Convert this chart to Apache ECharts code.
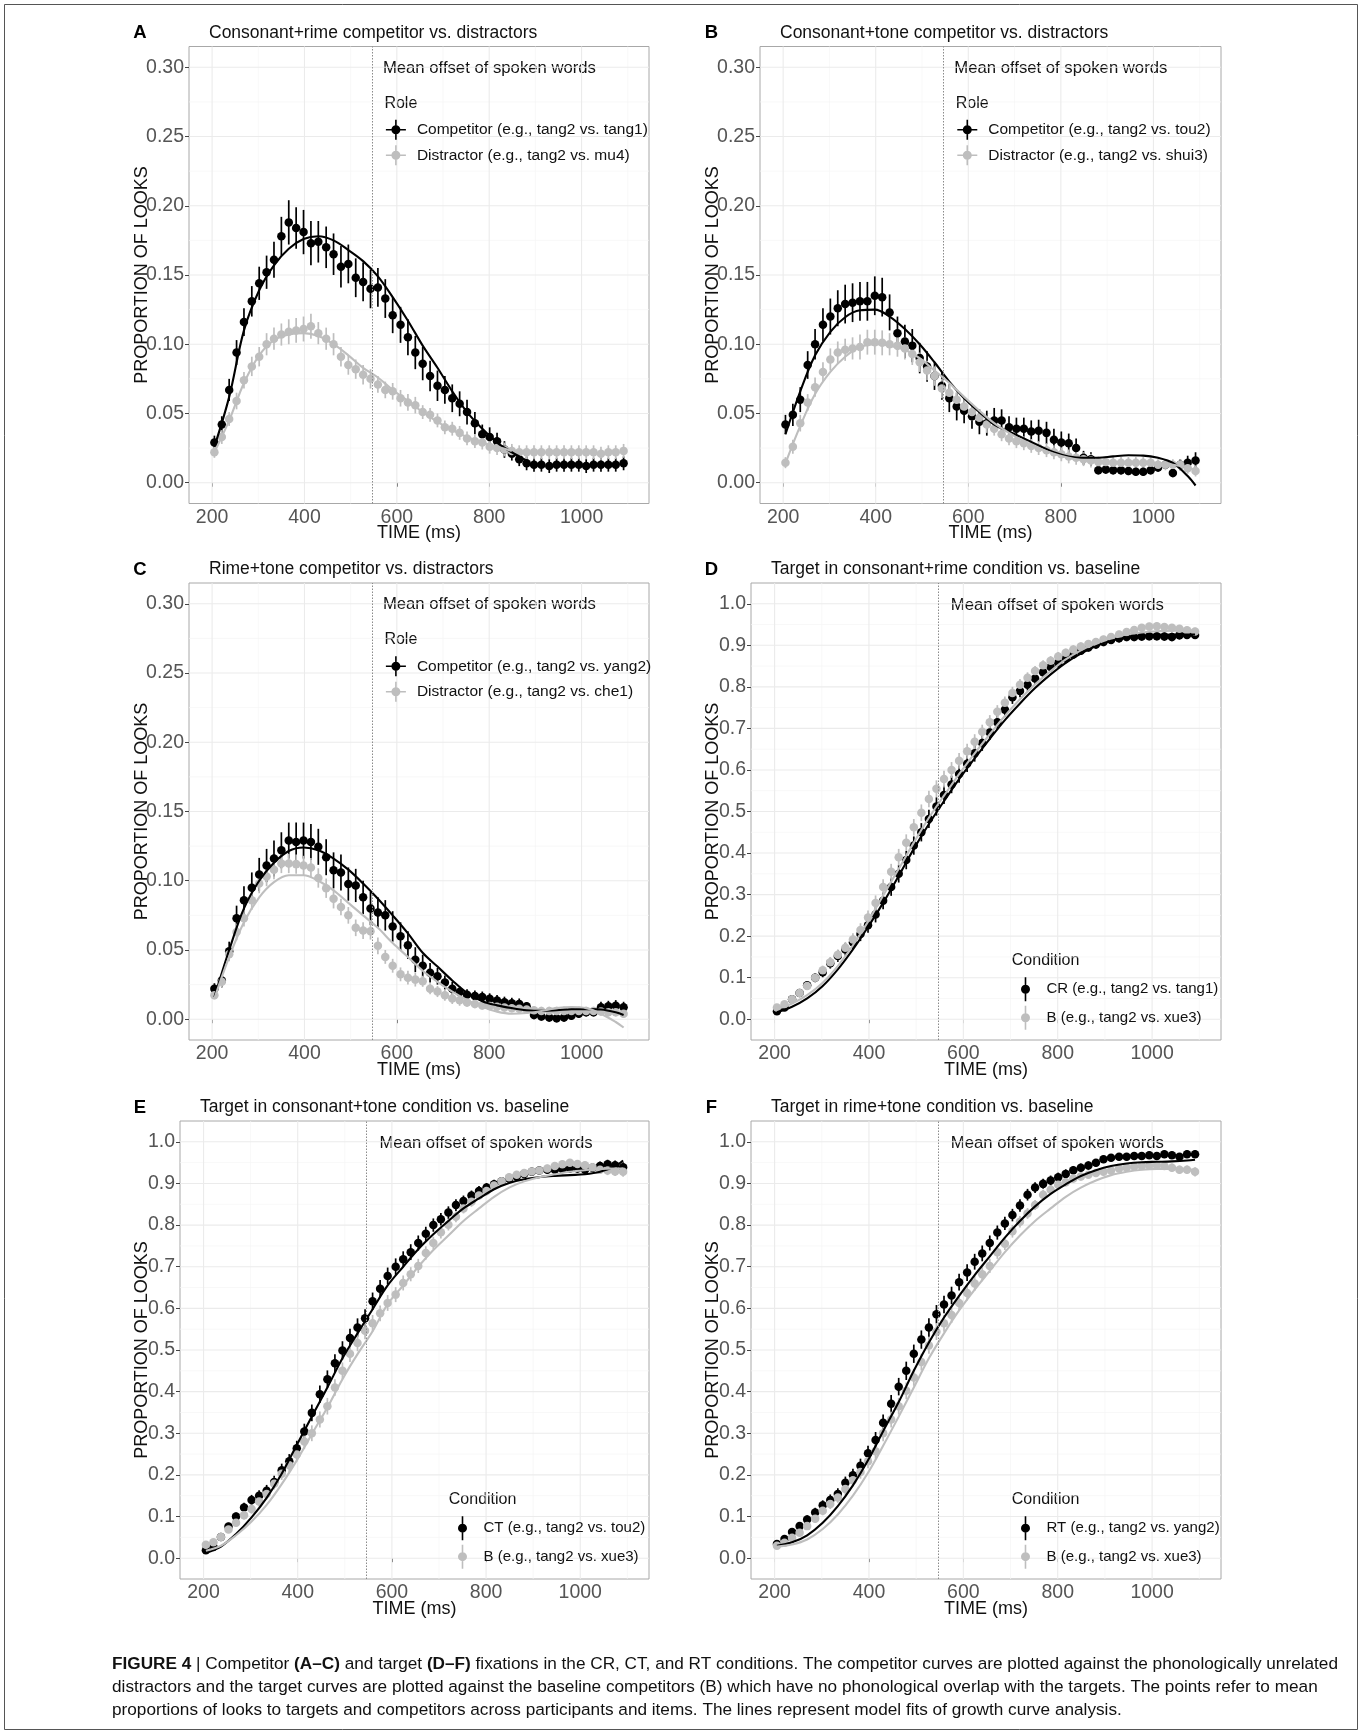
<!DOCTYPE html>
<html><head><meta charset="utf-8">
<script src="https://cdn.jsdelivr.net/npm/echarts@6/dist/echarts.min.js"></script>
<style>html,body{margin:0;padding:0;background:#fff}#c{width:1362px;height:1735px}</style>
</head><body><div id="c"></div>
<script>
// ---------------- DATA ----------------
const TIME = [205,221,237,253,269,286,302,318,334,350,366,382,398,414,430,447,463,479,495,511,527,543,559,575,591,608,624,640,656,672,688,704,720,736,752,769,785,801,817,833,849,865,881,897,913,930,946,962,978,994,1010,1026,1042,1058,1074,1091];
const FIT_TIME = [205,237,269,302,334,366,398,430,463,495,527,559,591,624,656,688,720,752,785,817,849,881,913,946,978,1010,1042,1074,1091];
const WORD_OFFSET_MS = 546;
const X_TICKS = [200,400,600,800,1000];
const X_MINOR = [300,500,700,900,1100];
const Y_TICKS_COMP = [0,0.05,0.10,0.15,0.20,0.25,0.30];
const Y_MINOR_COMP = [0.025,0.075,0.125,0.175,0.225,0.275];
const Y_TICKS_TGT = [0,0.1,0.2,0.3,0.4,0.5,0.6,0.7,0.8,0.9,1.0];
const Y_MINOR_TGT = [0.05,0.15,0.25,0.35,0.45,0.55,0.65,0.75,0.85,0.95];

// Panel A
const A_COMP = [0.029,0.042,0.067,0.094,0.116,0.131,0.144,0.152,0.161,0.178,0.188,0.184,0.181,0.173,0.174,0.170,0.165,0.156,0.158,0.148,0.145,0.140,0.141,0.133,0.121,0.114,0.105,0.094,0.086,0.077,0.070,0.067,0.061,0.057,0.051,0.043,0.035,0.033,0.030,0.024,0.021,0.017,0.014,0.013,0.013,0.012,0.013,0.013,0.013,0.013,0.012,0.013,0.013,0.013,0.013,0.014];
const A_COMP_ERR = [0.005,0.006,0.008,0.009,0.010,0.011,0.012,0.012,0.013,0.014,0.016,0.015,0.016,0.016,0.015,0.015,0.015,0.015,0.014,0.014,0.014,0.014,0.014,0.014,0.013,0.013,0.013,0.012,0.012,0.011,0.011,0.010,0.010,0.009,0.009,0.008,0.007,0.007,0.006,0.006,0.005,0.005,0.005,0.005,0.005,0.005,0.005,0.005,0.005,0.005,0.005,0.005,0.005,0.005,0.005,0.005];
const A_DIST = [0.022,0.033,0.046,0.059,0.074,0.084,0.091,0.100,0.104,0.107,0.109,0.110,0.111,0.113,0.108,0.104,0.100,0.091,0.085,0.082,0.078,0.075,0.071,0.067,0.066,0.061,0.058,0.056,0.051,0.049,0.045,0.040,0.039,0.036,0.032,0.030,0.029,0.026,0.025,0.024,0.023,0.022,0.022,0.022,0.022,0.022,0.022,0.022,0.022,0.022,0.022,0.022,0.021,0.022,0.022,0.023];
const A_DIST_ERR = [0.004,0.005,0.005,0.006,0.006,0.007,0.007,0.008,0.008,0.008,0.009,0.009,0.009,0.009,0.008,0.008,0.008,0.007,0.007,0.007,0.007,0.007,0.006,0.006,0.006,0.006,0.006,0.006,0.005,0.005,0.005,0.005,0.005,0.005,0.005,0.005,0.005,0.005,0.005,0.005,0.005,0.005,0.005,0.005,0.005,0.005,0.005,0.005,0.005,0.005,0.005,0.005,0.005,0.005,0.005,0.005];
const A_COMP_FIT = [0.026,0.062,0.110,0.139,0.157,0.169,0.176,0.178,0.175,0.168,0.160,0.149,0.134,0.117,0.099,0.083,0.066,0.051,0.039,0.029,0.022,0.016,null,null,null,null,null,null,null];
const A_DIST_FIT = [0.022,0.045,0.072,0.092,0.103,0.107,0.108,0.106,0.100,0.092,0.083,0.076,0.067,0.059,0.051,0.044,0.038,0.033,0.029,0.026,0.023,null,null,null,null,null,null,null,null];

// Panel B
const B_COMP = [0.042,0.049,0.060,0.085,0.100,0.114,0.120,0.126,0.129,0.130,0.131,0.131,0.135,0.134,0.123,0.108,0.102,0.099,0.090,0.084,0.077,0.070,0.061,0.055,0.052,0.048,0.044,0.043,0.045,0.045,0.040,0.039,0.039,0.037,0.0375,0.036,0.031,0.029,0.0285,0.025,0.018,0.017,0.009,0.0095,0.009,0.009,0.0085,0.008,0.008,0.009,0.011,0.013,0.007,0.013,0.0145,0.016];
const B_COMP_ERR = [0.007,0.008,0.009,0.010,0.011,0.012,0.013,0.013,0.014,0.014,0.014,0.014,0.014,0.014,0.013,0.012,0.012,0.012,0.011,0.011,0.010,0.010,0.010,0.010,0.009,0.009,0.009,0.009,0.009,0.008,0.008,0.008,0.008,0.008,0.008,0.008,0.008,0.008,0.007,0.007,0.005,0.005,0.003,0.003,0.003,0.003,0.003,0.003,0.003,0.003,0.003,0.003,0.003,0.004,0.005,0.006];
const B_DIST = [0.0145,0.026,0.043,0.058,0.069,0.080,0.089,0.094,0.096,0.097,0.098,0.1015,0.1015,0.101,0.100,0.099,0.097,0.093,0.087,0.081,0.077,0.068,0.065,0.060,0.055,0.051,0.047,0.042,0.039,0.035,0.032,0.030,0.0285,0.0266,0.025,0.0235,0.022,0.0205,0.019,0.018,0.017,0.016,0.015,0.015,0.0145,0.0145,0.0145,0.0145,0.0145,0.0145,0.013,0.013,0.013,0.013,0.0105,0.0085];
const B_DIST_ERR = [0.004,0.005,0.006,0.006,0.007,0.007,0.008,0.008,0.008,0.008,0.009,0.009,0.009,0.009,0.008,0.008,0.008,0.008,0.007,0.007,0.007,0.007,0.006,0.006,0.006,0.006,0.006,0.006,0.005,0.005,0.005,0.005,0.005,0.005,0.005,0.005,0.005,0.005,0.005,0.005,0.005,0.005,0.004,0.004,0.004,0.004,0.004,0.004,0.004,0.004,0.004,0.004,0.004,0.004,0.004,0.004];
const B_COMP_FIT = [0.035,0.066,0.092,0.109,0.1195,0.1245,0.125,0.120,0.111,0.100,0.087,0.073,0.061,0.051,0.042,0.037,0.032,0.027,0.022,0.019,0.018,0.018,0.019,0.0198,0.0196,0.018,0.0143,0.0048,-0.002];
const B_DIST_FIT = [0.014,0.041,0.064,0.080,0.091,0.098,0.100,0.099,0.096,0.090,0.081,0.072,0.062,0.052,0.043,0.036,0.030,0.025,0.021,0.018,0.016,0.015,0.015,0.015,0.015,0.014,0.013,0.011,0.009];

// Panel C
const C_COMP = [0.022,0.028,0.049,0.073,0.086,0.095,0.1045,0.111,0.116,0.122,0.129,0.128,0.129,0.128,0.1245,0.117,0.1075,0.106,0.0976,0.0966,0.088,0.080,0.077,0.075,0.067,0.060,0.0535,0.043,0.0386,0.0336,0.031,0.0265,0.022,0.0196,0.0176,0.0167,0.016,0.0147,0.0135,0.0123,0.0115,0.011,0.0093,0.003,0.002,0.0012,0.0007,0.0012,0.0025,0.004,0.005,0.005,0.0086,0.0093,0.0098,0.0086];
const C_COMP_ERR = [0.004,0.005,0.007,0.009,0.010,0.011,0.012,0.012,0.013,0.013,0.013,0.014,0.013,0.013,0.013,0.013,0.013,0.013,0.012,0.012,0.012,0.012,0.011,0.011,0.011,0.010,0.010,0.009,0.008,0.007,0.006,0.005,0.005,0.004,0.004,0.004,0.004,0.004,0.004,0.004,0.004,0.004,0.003,0.003,0.003,0.003,0.003,0.003,0.003,0.003,0.003,0.003,0.004,0.004,0.004,0.004];
const C_DIST = [0.0174,0.027,0.047,0.063,0.073,0.086,0.098,0.103,0.108,0.1125,0.1125,0.112,0.111,0.1095,0.102,0.0946,0.087,0.081,0.075,0.066,0.064,0.0635,0.053,0.045,0.0386,0.0324,0.030,0.0286,0.0274,0.022,0.020,0.0174,0.015,0.0137,0.012,0.011,0.010,0.0095,0.009,0.0085,0.008,0.0075,0.007,0.0065,0.006,0.006,0.006,0.006,0.006,0.006,0.006,0.006,0.0055,0.005,0.005,0.004];
const C_DIST_ERR = [0.003,0.004,0.005,0.006,0.006,0.007,0.007,0.007,0.007,0.007,0.007,0.007,0.007,0.007,0.007,0.007,0.007,0.006,0.006,0.006,0.006,0.006,0.006,0.005,0.005,0.005,0.005,0.005,0.004,0.004,0.004,0.004,0.004,0.004,0.003,0.003,0.003,0.003,0.003,0.003,0.003,0.003,0.003,0.003,0.003,0.003,0.003,0.003,0.003,0.003,0.003,0.003,0.003,0.003,0.003,0.003];
const C_COMP_FIT = [0.016,0.050,0.080,0.100,0.113,0.1215,0.124,0.122,0.116,0.108,0.098,0.087,0.075,0.062,0.048,0.038,0.028,0.019,0.013,0.010,0.008,0.0065,0.006,0.0065,0.0072,0.0073,0.007,0.005,0.003];
const C_DIST_FIT = [0.015,0.045,0.070,0.088,0.099,0.104,0.104,0.100,0.093,0.084,0.075,0.066,0.055,0.045,0.035,0.027,0.020,0.014,0.009,0.0055,0.004,0.0045,0.006,0.008,0.0088,0.008,0.004,-0.002,-0.006];

// Panel D
const D_CR = [0.019,0.028,0.048,0.063,0.082,0.100,0.113,0.135,0.152,0.168,0.185,0.205,0.226,0.252,0.285,0.318,0.350,0.383,0.418,0.450,0.482,0.512,0.540,0.565,0.590,0.615,0.640,0.665,0.690,0.715,0.745,0.775,0.790,0.805,0.820,0.835,0.848,0.858,0.868,0.878,0.887,0.895,0.902,0.908,0.913,0.917,0.920,0.920,0.921,0.922,0.922,0.921,0.920,0.924,0.925,0.925];
const D_CR_ERR = [0.006,0.007,0.008,0.009,0.010,0.011,0.012,0.013,0.014,0.015,0.016,0.017,0.018,0.019,0.020,0.021,0.021,0.022,0.022,0.022,0.022,0.022,0.022,0.021,0.021,0.020,0.020,0.019,0.018,0.018,0.017,0.016,0.015,0.014,0.013,0.013,0.012,0.012,0.011,0.011,0.010,0.010,0.010,0.010,0.010,0.010,0.010,0.010,0.010,0.010,0.010,0.010,0.010,0.010,0.010,0.010];
const D_B = [0.028,0.036,0.048,0.063,0.080,0.100,0.118,0.137,0.155,0.172,0.192,0.215,0.245,0.280,0.318,0.355,0.390,0.425,0.462,0.497,0.530,0.555,0.578,0.600,0.622,0.645,0.668,0.692,0.715,0.740,0.762,0.785,0.805,0.822,0.838,0.852,0.863,0.873,0.882,0.890,0.897,0.903,0.908,0.914,0.920,0.926,0.932,0.937,0.942,0.945,0.946,0.944,0.942,0.940,0.936,0.933];
const D_B_ERR = [0.005,0.006,0.007,0.008,0.009,0.010,0.011,0.012,0.013,0.014,0.015,0.016,0.017,0.018,0.019,0.019,0.020,0.020,0.020,0.020,0.020,0.020,0.020,0.019,0.019,0.018,0.018,0.017,0.017,0.016,0.015,0.015,0.014,0.013,0.012,0.012,0.011,0.011,0.010,0.010,0.010,0.009,0.009,0.009,0.009,0.009,0.009,0.009,0.009,0.009,0.009,0.009,0.009,0.009,0.009,0.009];
const D_CR_FIT = [0.017,0.030,0.050,0.080,0.120,0.168,0.222,0.280,0.345,0.410,0.470,0.525,0.578,0.628,0.675,0.720,0.760,0.797,0.830,0.858,0.880,0.898,0.911,0.919,0.923,0.925,0.926,0.926,0.926];
const D_B_FIT = [0.025,0.038,0.058,0.088,0.128,0.178,0.235,0.298,0.362,0.425,0.485,0.538,0.590,0.640,0.686,0.730,0.770,0.806,0.838,0.866,0.888,0.905,0.918,0.926,0.931,0.934,0.935,0.936,0.936];

// Panel E
const E_CT = [0.019,0.027,0.051,0.076,0.100,0.122,0.140,0.150,0.162,0.183,0.211,0.233,0.264,0.304,0.349,0.394,0.430,0.468,0.499,0.529,0.554,0.576,0.617,0.647,0.678,0.700,0.718,0.735,0.757,0.779,0.800,0.814,0.830,0.848,0.858,0.871,0.882,0.890,0.898,0.905,0.912,0.917,0.923,0.928,0.931,0.933,0.933,0.935,0.936,0.936,0.933,0.938,0.942,0.946,0.944,0.939];
const E_CT_ERR = [0.006,0.007,0.008,0.009,0.010,0.011,0.012,0.013,0.014,0.015,0.016,0.017,0.018,0.019,0.020,0.021,0.021,0.022,0.022,0.022,0.022,0.022,0.021,0.021,0.020,0.020,0.019,0.019,0.018,0.017,0.016,0.015,0.015,0.014,0.013,0.012,0.012,0.011,0.011,0.010,0.010,0.010,0.010,0.010,0.010,0.010,0.010,0.010,0.010,0.010,0.010,0.010,0.011,0.011,0.011,0.012];
const E_B = [0.032,0.038,0.051,0.069,0.085,0.103,0.118,0.136,0.154,0.179,0.203,0.223,0.249,0.280,0.300,0.333,0.365,0.410,0.450,0.491,0.517,0.546,0.564,0.588,0.613,0.633,0.661,0.682,0.702,0.733,0.757,0.783,0.801,0.820,0.840,0.856,0.871,0.882,0.895,0.905,0.915,0.921,0.925,0.929,0.931,0.936,0.942,0.946,0.950,0.947,0.944,0.939,0.933,0.931,0.929,0.928];
const E_B_ERR = [0.005,0.006,0.007,0.008,0.009,0.010,0.011,0.012,0.013,0.014,0.015,0.016,0.017,0.018,0.019,0.019,0.020,0.020,0.020,0.020,0.020,0.020,0.020,0.019,0.019,0.018,0.018,0.017,0.017,0.016,0.015,0.015,0.014,0.013,0.012,0.012,0.011,0.011,0.010,0.010,0.010,0.009,0.009,0.009,0.009,0.009,0.009,0.009,0.009,0.009,0.009,0.010,0.010,0.011,0.011,0.012];
const E_CT_FIT = [0.013,0.028,0.058,0.098,0.145,0.203,0.272,0.340,0.410,0.480,0.540,0.598,0.655,0.700,0.742,0.778,0.810,0.840,0.864,0.886,0.901,0.910,0.915,0.918,0.920,0.922,0.928,0.941,0.955];
const E_B_FIT = [0.018,0.030,0.055,0.088,0.128,0.178,0.235,0.298,0.362,0.430,0.490,0.545,0.610,0.655,0.700,0.740,0.775,0.810,0.840,0.868,0.890,0.905,0.915,0.922,0.928,0.932,0.935,0.936,0.936];

// Panel F
const F_RT = [0.034,0.046,0.063,0.077,0.093,0.110,0.127,0.140,0.154,0.181,0.199,0.222,0.252,0.284,0.325,0.371,0.412,0.450,0.491,0.525,0.554,0.586,0.609,0.631,0.663,0.686,0.712,0.732,0.757,0.782,0.804,0.824,0.847,0.873,0.890,0.899,0.907,0.915,0.923,0.932,0.938,0.943,0.950,0.958,0.962,0.964,0.964,0.966,0.966,0.968,0.966,0.970,0.968,0.964,0.970,0.970];
const F_RT_ERR = [0.006,0.007,0.008,0.009,0.010,0.011,0.012,0.013,0.014,0.015,0.016,0.017,0.018,0.019,0.020,0.021,0.021,0.022,0.022,0.022,0.022,0.022,0.021,0.021,0.020,0.020,0.019,0.019,0.018,0.017,0.016,0.015,0.015,0.014,0.013,0.012,0.012,0.011,0.011,0.010,0.010,0.010,0.009,0.009,0.009,0.009,0.009,0.009,0.009,0.009,0.009,0.009,0.009,0.009,0.009,0.009];
const F_B = [0.030,0.037,0.049,0.061,0.077,0.095,0.114,0.130,0.146,0.166,0.187,0.207,0.233,0.257,0.300,0.333,0.365,0.402,0.434,0.471,0.511,0.544,0.564,0.584,0.613,0.637,0.660,0.682,0.702,0.735,0.755,0.785,0.808,0.828,0.848,0.873,0.885,0.897,0.903,0.912,0.917,0.921,0.925,0.928,0.931,0.936,0.938,0.941,0.942,0.943,0.944,0.942,0.938,0.933,0.933,0.928];
const F_B_ERR = [0.005,0.006,0.007,0.008,0.009,0.010,0.011,0.012,0.013,0.014,0.015,0.016,0.017,0.018,0.019,0.019,0.020,0.020,0.020,0.020,0.020,0.020,0.020,0.019,0.019,0.018,0.018,0.017,0.017,0.016,0.015,0.015,0.014,0.013,0.012,0.012,0.011,0.011,0.010,0.010,0.010,0.009,0.009,0.009,0.009,0.009,0.009,0.009,0.009,0.009,0.009,0.009,0.010,0.010,0.010,0.011];
const F_RT_FIT = [0.030,0.038,0.055,0.085,0.125,0.175,0.235,0.305,0.375,0.450,0.518,0.578,0.630,0.680,0.725,0.770,0.810,0.845,0.875,0.898,0.918,0.932,0.942,0.948,0.951,0.952,0.953,0.955,0.957];
const F_B_FIT = [0.028,0.033,0.045,0.070,0.105,0.150,0.205,0.270,0.340,0.410,0.480,0.540,0.595,0.645,0.690,0.735,0.775,0.810,0.840,0.868,0.890,0.907,0.920,0.928,0.933,0.935,0.935,0.934,0.933];

// ---------------- LAYOUT / STYLE ----------------
const FONT = "'Liberation Sans', Arial, Helvetica, sans-serif";
const BLACK = '#000000', GREY = '#BEBEBE';
const X_MIN = 150, X_MAX = 1146;

const PANELS = [
  {letter:'A', title:'Consonant+rime competitor vs. distractors', kind:'comp', col:0,
   grid:{left:189, top:46.5, width:460, height:457}, legendTitle:'Role',
   black:{name:'Competitor (e.g., tang2 vs. tang1)', y:A_COMP, err:A_COMP_ERR, fit:A_COMP_FIT},
   grey:{name:'Distractor (e.g., tang2 vs. mu4)', y:A_DIST, err:A_DIST_ERR, fit:A_DIST_FIT}},
  {letter:'B', title:'Consonant+tone competitor vs. distractors', kind:'comp', col:1,
   grid:{left:760, top:46.5, width:461, height:457}, legendTitle:'Role',
   black:{name:'Competitor (e.g., tang2 vs. tou2)', y:B_COMP, err:B_COMP_ERR, fit:B_COMP_FIT},
   grey:{name:'Distractor (e.g., tang2 vs. shui3)', y:B_DIST, err:B_DIST_ERR, fit:B_DIST_FIT}},
  {letter:'C', title:'Rime+tone competitor vs. distractors', kind:'comp', col:0,
   grid:{left:189, top:583, width:460, height:457}, legendTitle:'Role',
   black:{name:'Competitor (e.g., tang2 vs. yang2)', y:C_COMP, err:C_COMP_ERR, fit:C_COMP_FIT},
   grey:{name:'Distractor (e.g., tang2 vs. che1)', y:C_DIST, err:C_DIST_ERR, fit:C_DIST_FIT}},
  {letter:'D', title:'Target in consonant+rime condition vs. baseline', kind:'tgt', col:1,
   grid:{left:751, top:583, width:470, height:457}, legendTitle:'Condition', legendDx:206.5,
   black:{name:'CR (e.g., tang2 vs. tang1)', y:D_CR, err:D_CR_ERR, fit:D_CR_FIT},
   grey:{name:'B (e.g., tang2 vs. xue3)', y:D_B, err:D_B_ERR, fit:D_B_FIT}},
  {letter:'E', title:'Target in consonant+tone condition vs. baseline', kind:'tgt', col:0,
   grid:{left:180, top:1121, width:469, height:458}, legendTitle:'Condition', legendDx:197.5,
   black:{name:'CT (e.g., tang2 vs. tou2)', y:E_CT, err:E_CT_ERR, fit:E_CT_FIT},
   grey:{name:'B (e.g., tang2 vs. xue3)', y:E_B, err:E_B_ERR, fit:E_B_FIT}},
  {letter:'F', title:'Target in rime+tone condition vs. baseline', kind:'tgt', col:1,
   grid:{left:751, top:1121, width:470, height:458}, legendTitle:'Condition', legendDx:206.5,
   black:{name:'RT (e.g., tang2 vs. yang2)', y:F_RT, err:F_RT_ERR, fit:F_RT_FIT},
   grey:{name:'B (e.g., tang2 vs. xue3)', y:F_B, err:F_B_ERR, fit:F_B_FIT}}
];

// legend key icons (point + error bar [+ line]); invisible corner anchors fix the box
const ICON_ROLE = 'path://M0,0h0.01v0.01h-0.01Z M27,22h-0.01v-0.01h0.01Z M1,10.2H21V11.8H1Z M10.2,1H11.8V21H10.2Z M15.5,11A4.5,4.5,0,1,1,6.5,11A4.5,4.5,0,1,1,15.5,11Z';
const ICON_COND = 'path://M0,0h0.01v0.01h-0.01Z M27,24h-0.01v-0.01h0.01Z M10.2,0H11.8V24H10.2Z M15.5,12A4.5,4.5,0,1,1,6.5,12A4.5,4.5,0,1,1,15.5,12Z';

function gridLineItems(yTicks, yMinor){
  const d = [];
  X_MINOR.forEach(v => d.push([1, v]));
  yMinor.forEach(v => d.push([3, v]));
  X_TICKS.forEach(v => d.push([0, v]));
  yTicks.forEach(v => d.push([2, v]));
  return d;
}

const grids = [], xAxes = [], yAxes = [], series = [];
PANELS.forEach((p, i) => {
  const comp = p.kind === 'comp';
  const yTicks = comp ? Y_TICKS_COMP : Y_TICKS_TGT;
  const yMinor = comp ? Y_MINOR_COMP : Y_MINOR_TGT;
  grids.push({left:p.grid.left, top:p.grid.top, width:p.grid.width, height:p.grid.height,
    show:true, borderColor:'#A8A8A8', borderWidth:1, backgroundColor:'#ffffff',
    containLabel:false, outerBoundsMode:'none'});
  xAxes.push({gridIndex:i, type:'value', min:X_MIN, max:X_MAX,
    name:'TIME (ms)', nameLocation:'middle', nameGap:21, nameMoveOverlap:false,
    nameTextStyle:{fontSize:18, color:'#111', fontFamily:FONT},
    axisLine:{show:false},
    axisTick:{show:true, length:4, customValues:X_TICKS, lineStyle:{color:'#444', width:1}},
    axisLabel:{show:true, customValues:X_TICKS, margin:4, fontSize:19.5, color:'#555', fontFamily:FONT,
      formatter: v => String(Math.round(v))},
    splitLine:{show:false}, minorTick:{show:false}, minorSplitLine:{show:false}});
  yAxes.push({gridIndex:i, type:'value', min: comp ? -0.015 : -0.05, max: comp ? 0.315 : 1.05,
    name:'PROPORTION OF LOOKS', nameLocation:'middle', nameRotate:90, nameGap: comp ? 38 : 29, nameMoveOverlap:false,
    nameTextStyle:{fontSize:18, color:'#111', fontFamily:FONT},
    axisLine:{show:false},
    axisTick:{show:true, length:4, customValues:yTicks, lineStyle:{color:'#444', width:1}},
    axisLabel:{show:true, customValues:yTicks, margin:5, fontSize:19.5, color:'#555', fontFamily:FONT,
      formatter: v => comp ? v.toFixed(2) : v.toFixed(1)},
    splitLine:{show:false}, minorTick:{show:false}, minorSplitLine:{show:false}});

  // background grid lines + dotted "mean offset" line
  series.push({type:'custom', xAxisIndex:i, yAxisIndex:i, silent:true, z:1, clip:false,
    data: gridLineItems(yTicks, yMinor),
    renderItem:(params, api) => {
      const cs = params.coordSys; const kind = api.value(0), v = api.value(1);
      const major = (kind === 0 || kind === 2);
      let shape;
      if (kind < 2) { const x = api.coord([v, 0.1])[0]; shape = {x1:x, y1:cs.y, x2:x, y2:cs.y + cs.height}; }
      else { const y = api.coord([500, v])[1]; shape = {x1:cs.x, y1:y, x2:cs.x + cs.width, y2:y}; }
      return {type:'line', shape, style:{stroke: major ? '#EBEBEB' : '#F5F5F5', lineWidth: major ? 1.1 : 0.7}};
    },
    markLine:{silent:true, symbol:['none','none'], label:{show:false}, animation:false,
      lineStyle:{color:'#8A8A8A', type:[1.5,1.5], width:1}, data:[{xAxis: WORD_OFFSET_MS}]}
  });

  const addGroup = (s, color) => {
    series.push({type:'scatter', name:s.name, xAxisIndex:i, yAxisIndex:i, z:3, symbol:'circle', symbolSize:8.5,
      itemStyle:{color, opacity:1}, emphasis:{disabled:true},
      data: TIME.map((t, k) => [t, s.y[k]])});
    series.push({type:'custom', name:s.name, xAxisIndex:i, yAxisIndex:i, z:3, itemStyle:{color},
      data: TIME.map((t, k) => [t, s.y[k] - s.err[k], s.y[k] + s.err[k]]),
      encode:{x:0, y:[1,2]},
      renderItem:(params, api) => {
        const a = api.coord([api.value(0), api.value(1)]);
        const b = api.coord([api.value(0), api.value(2)]);
        return {type:'line', shape:{x1:a[0], y1:a[1], x2:b[0], y2:b[1]}, style:{stroke:color, lineWidth:1.7}};
      }});
  };
  addGroup(p.black, BLACK);
  addGroup(p.grey, GREY);
  [[p.black, BLACK], [p.grey, GREY]].forEach(([s, color]) => {
    series.push({type:'line', name:s.name, xAxisIndex:i, yAxisIndex:i, z:4, smooth:0.35,
      symbol:'none', showSymbol:false, connectNulls:false, clip:true,
      lineStyle:{color, width:2.1}, itemStyle:{color}, emphasis:{disabled:true},
      data: FIT_TIME.map((t, k) => [t, s.fit[k]])});
  });
});

const chart = echarts.init(document.getElementById('c'), null, {renderer:'canvas'});
chart.setOption({animation:false, backgroundColor:'#ffffff', grid:grids, xAxis:xAxes, yAxis:yAxes, series:series});

// ---- annotations, legends, titles (positioned from the library's own scales) ----
const legends = [], graphics = [];
PANELS.forEach((p, i) => {
  const comp = p.kind === 'comp';
  const [lineX, yTop] = chart.convertToPixel({gridIndex:i}, [WORD_OFFSET_MS, comp ? 0.30 : 1.0]);
  const y0 = chart.convertToPixel({gridIndex:i}, [WORD_OFFSET_MS, 0])[1];
  const colCenter = p.col === 0 ? 140 : 711.5;
  graphics.push({type:'text', x:colCenter, y:p.grid.top - 13.5, silent:true,
    style:{text:p.letter, fill:'#000', font:'bold 18.5px ' + FONT, textAlign:'center', textVerticalAlign:'middle'}});
  graphics.push({type:'text', x:p.grid.left + 20, y:p.grid.top - 13.5, silent:true,
    style:{text:p.title, fill:'#111', font:'17.5px ' + FONT, textAlign:'left', textVerticalAlign:'middle'}});
  graphics.push({type:'text', x:lineX + (comp ? 11 : 13), y: comp ? yTop + 1 : yTop + 2, silent:true,
    style:{text:'Mean offset of spoken words', fill:'#111', font:'16.7px ' + FONT, textAlign:'left', textVerticalAlign:'middle'}});
  if (comp) {
    graphics.push({type:'text', x:lineX + 12.5, y:yTop + 36, silent:true,
      style:{text:p.legendTitle, fill:'#111', font:'16px ' + FONT, textAlign:'left', textVerticalAlign:'middle'}});
    legends.push({show:true, orient:'vertical', left:lineX + 13, top:yTop + 51.5, padding:0,
      itemWidth:27, itemHeight:22, itemGap:3.5, selectedMode:false,
      textStyle:{fontSize:15.5, color:'#111', fontFamily:FONT},
      data:[{name:p.black.name, icon:ICON_ROLE}, {name:p.grey.name, icon:ICON_ROLE}]});
  } else {
    const gridRight = p.grid.left + p.grid.width;
    const lLeft = gridRight - p.legendDx;
    graphics.push({type:'text', x:lLeft - 2.7, y:y0 - 58.5, silent:true,
      style:{text:p.legendTitle, fill:'#111', font:'16px ' + FONT, textAlign:'left', textVerticalAlign:'middle'}});
    legends.push({show:true, orient:'vertical', left:lLeft, top:y0 - 42, padding:0,
      itemWidth:27, itemHeight:24, itemGap:4.5, selectedMode:false,
      textStyle:{fontSize:15, color:'#111', fontFamily:FONT},
      data:[{name:p.black.name, icon:ICON_COND}, {name:p.grey.name, icon:ICON_COND}]});
  }
});

// figure caption and frame
const CAP_SIZE = 17.2;
const capRich = {b:{fontWeight:'bold', fontSize:CAP_SIZE, fontFamily:FONT, fill:'#111'}};
const CAPTION = [
  '{b|FIGURE 4} | Competitor {b|(A–C)} and target {b|(D–F)} fixations in the CR, CT, and RT conditions. The competitor curves are plotted against the phonologically unrelated',
  'distractors and the target curves are plotted against the baseline competitors (B) which have no phonological overlap with the targets. The points refer to mean',
  'proportions of looks to targets and competitors across participants and items. The lines represent model fits of growth curve analysis.'
];
CAPTION.forEach((t, k) => {
  graphics.push({type:'text', x:112, y:1664 + k * 23.2, silent:true,
    style:{text:t, rich:capRich, fill:'#111', fontSize:CAP_SIZE, fontFamily:FONT, textAlign:'left', textVerticalAlign:'middle'}});
});
graphics.push({type:'rect', silent:true, shape:{x:4.5, y:4.5, width:1353, height:1725},
  style:{fill:'none', stroke:'#555', lineWidth:1}});

chart.setOption({legend:legends, graphic:graphics});
</script>
</body></html>
